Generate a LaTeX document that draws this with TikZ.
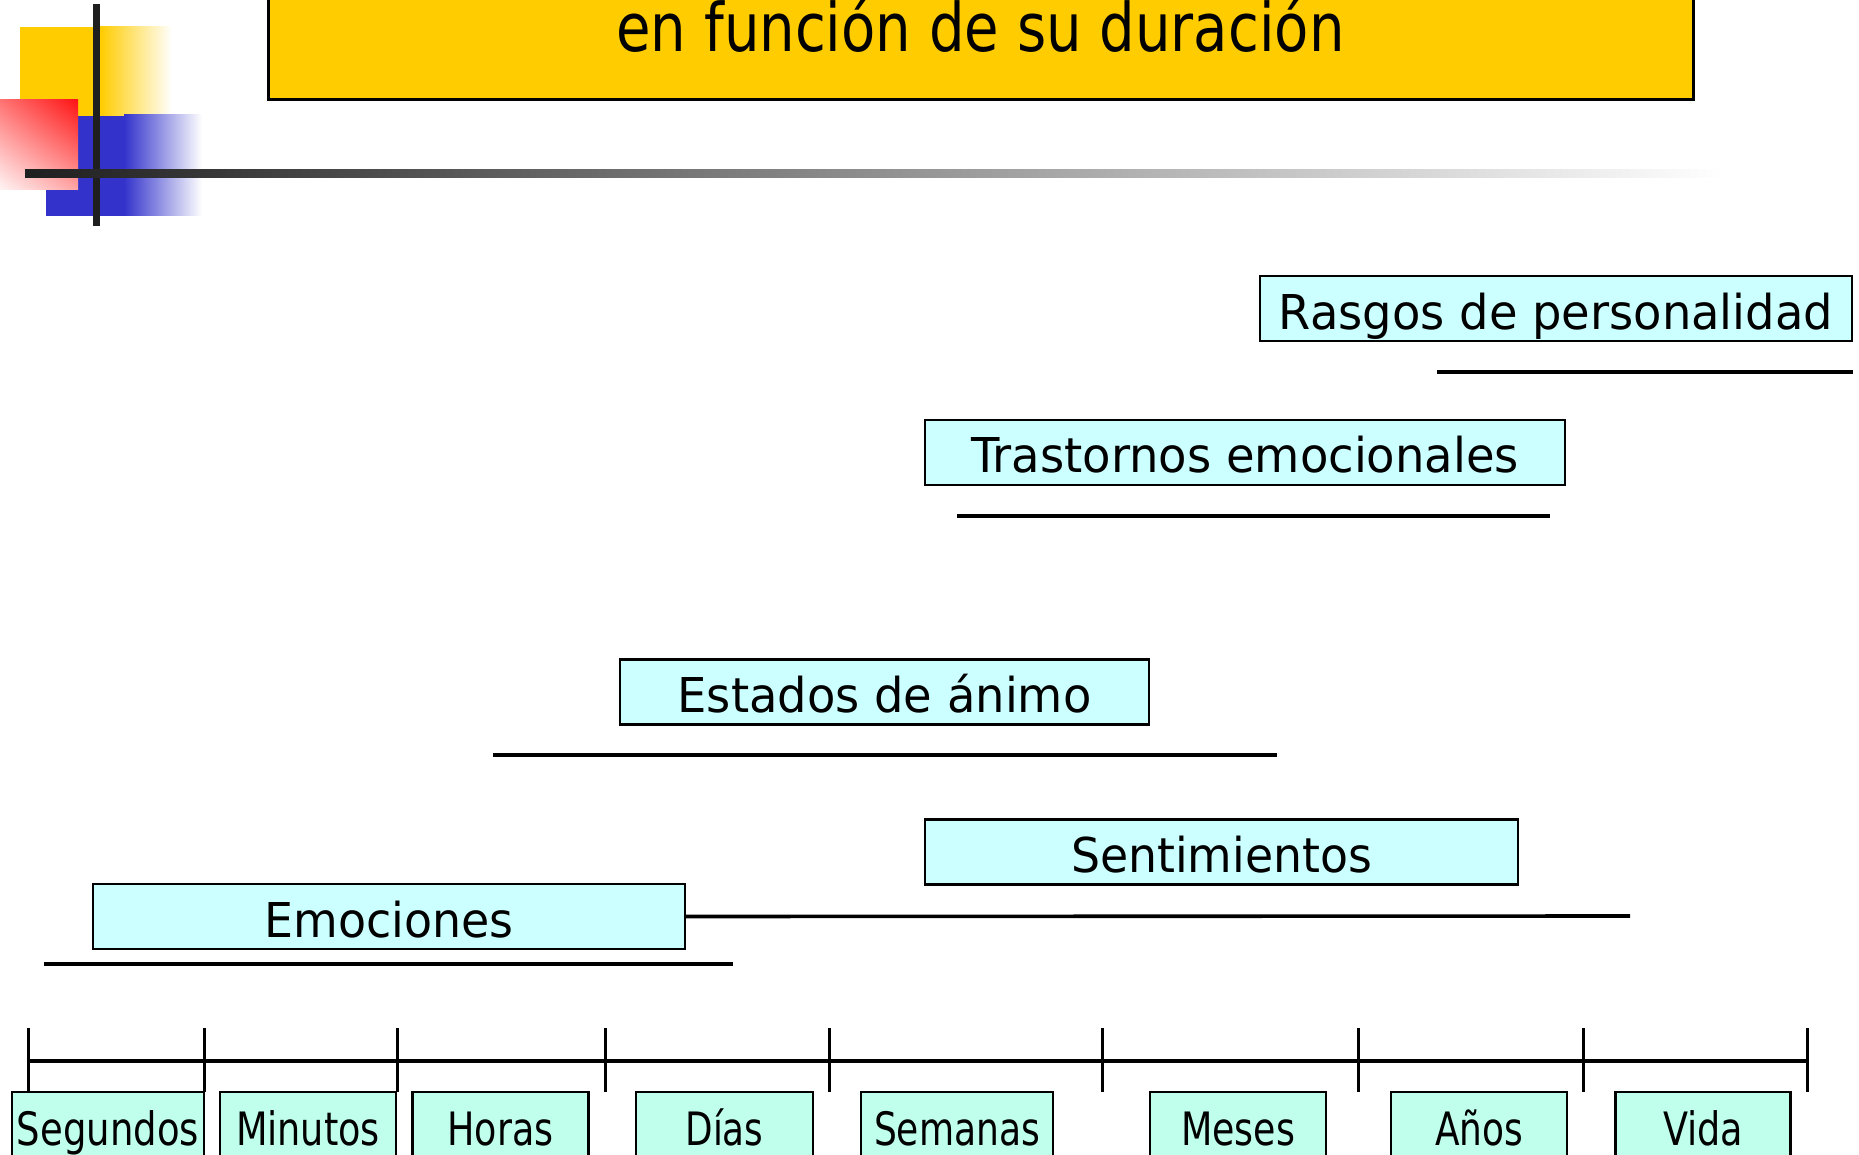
\documentclass[tikz,border=0pt]{standalone}
\usepackage{fontspec}
\setmainfont{DejaVu Sans}
\usetikzlibrary{shadings}
\definecolor{gold}{RGB}{255,204,0}
\definecolor{bluedec}{RGB}{51,51,204}
\definecolor{darkline}{RGB}{31,31,31}
\definecolor{cyanbox}{RGB}{204,255,255}
\definecolor{mintbox}{RGB}{192,255,236}
\definecolor{redtop}{RGB}{255,20,20}
\definecolor{redul}{RGB}{255,115,115}
\definecolor{redlr}{RGB}{255,165,165}
\definecolor{redll}{RGB}{255,245,245}
\newcommand\fitw[2]{\resizebox{#1}{\height}{#2}}
\begin{document}
\begin{tikzpicture}[x=0.5pt,y=-0.5pt,
  titlebox/.style={draw=black,line width=1.5pt,fill=gold,inner sep=0pt,
    minimum width=712.5pt,minimum height=80pt,text height=56pt,text depth=24pt,
    font=\fontsize{33.5}{40}\selectfont},
  upbox/.style={draw=black,line width=1.2pt,fill=cyanbox,inner sep=0pt,
    minimum height=32.5pt,text height=26.5pt,text depth=6pt,
    font=\fontsize{24}{28}\selectfont},
  lblbox/.style={draw=black,line width=1.2pt,fill=mintbox,inner sep=0pt,
    minimum height=40pt,text height=26.5pt,text depth=13.5pt,
    font=\fontsize{23}{28}\selectfont},
  rangeline/.style={draw=black,line width=1.8pt},
  axisline/.style={draw=black,line width=1.8pt},
  tickline/.style={draw=black,line width=1.5pt}]
\useasboundingbox (0,0) rectangle (1859,1155);
% decoration
\fill[gold] (20,27) rectangle (100,116);
\shade[left color=gold,right color=white] (100,27) rectangle (172,116);
\fill[bluedec] (46,116) rectangle (124,216);
\shade[left color=bluedec,right color=white] (124,115) rectangle (202,216);
\shade[upper right=redtop,upper left=redul,lower right=redlr,lower left=redll] (0,100) rectangle (78,190);
\fill[darkline] (93,4) rectangle (100,226);
\shade[left color=darkline,right color=white] (25,170) rectangle (1724,178);
% title
\node[titlebox] (title) at (980.5,20) {\fitw{364pt}{en función de su duración}};
% ranges
\coordinate (r1) at (1437,372); \coordinate (r2) at (1853,372);
\coordinate (tr1) at (957,516); \coordinate (tr2) at (1550,516);
\coordinate (e1) at (493,755); \coordinate (e2) at (1277,755);
\coordinate (s2) at (1630,916);
\coordinate (m1) at (44,964); \coordinate (m2) at (733,964);
\node[upbox,minimum width=296pt] (rasgos) at (1556,308.5) {\fitw{277pt}{Rasgos de personalidad}};
\node[upbox,minimum width=320pt] (trast) at (1245,452.5) {\fitw{274pt}{Trastornos emocionales}};
\node[upbox,minimum width=264.5pt] (estados) at (884.5,692) {\fitw{207pt}{Estados de ánimo}};
\node[upbox,minimum width=296.5pt] (sent) at (1221.5,852) {\fitw{150.5pt}{Sentimientos}};
\node[upbox,minimum width=296pt] (emo) at (389,916.5) {\fitw{124.5pt}{Emociones}};
\draw[rangeline] (r1) -- (r2);
\draw[rangeline] (tr1) -- (tr2);
\draw[rangeline] (e1) -- (e2);
\draw[rangeline] (emo.east) -- (s2);
\draw[rangeline] (m1) -- (m2);
% axis
\foreach \x [count=\i] in {28,204,397,605,829,1102,1358,1583,1807} {
  \coordinate (ta\i) at (\x,1028);
  \coordinate (tb\i) at (\x,1092);
  \coordinate (tm\i) at (\x,1061);
}
\draw[axisline] (tm1) -- (tm9);
\foreach \i in {1,...,9} { \draw[tickline] (ta\i) -- (tb\i); }
% labels
\node[lblbox,minimum width=96pt] (seg) at (108,1132) {\fitw{91pt}{Segundos}};
\node[lblbox,minimum width=88pt] (min) at (308,1132) {\fitw{72pt}{Minutos}};
\node[lblbox,minimum width=88pt] (hor) at (500.5,1132) {\fitw{53pt}{Horas}};
\node[lblbox,minimum width=88.5pt] (dia) at (724.5,1132) {\fitw{39pt}{Días}};
\node[lblbox,minimum width=96pt] (sem) at (957,1132) {\fitw{83pt}{Semanas}};
\node[lblbox,minimum width=88pt] (mes) at (1238,1132) {\fitw{57pt}{Meses}};
\node[lblbox,minimum width=88pt] (ano) at (1479,1132) {\fitw{44pt}{Años}};
\node[lblbox,minimum width=87.5pt] (vid) at (1703,1132) {\fitw{40pt}{Vida}};
\end{tikzpicture}
\end{document}
